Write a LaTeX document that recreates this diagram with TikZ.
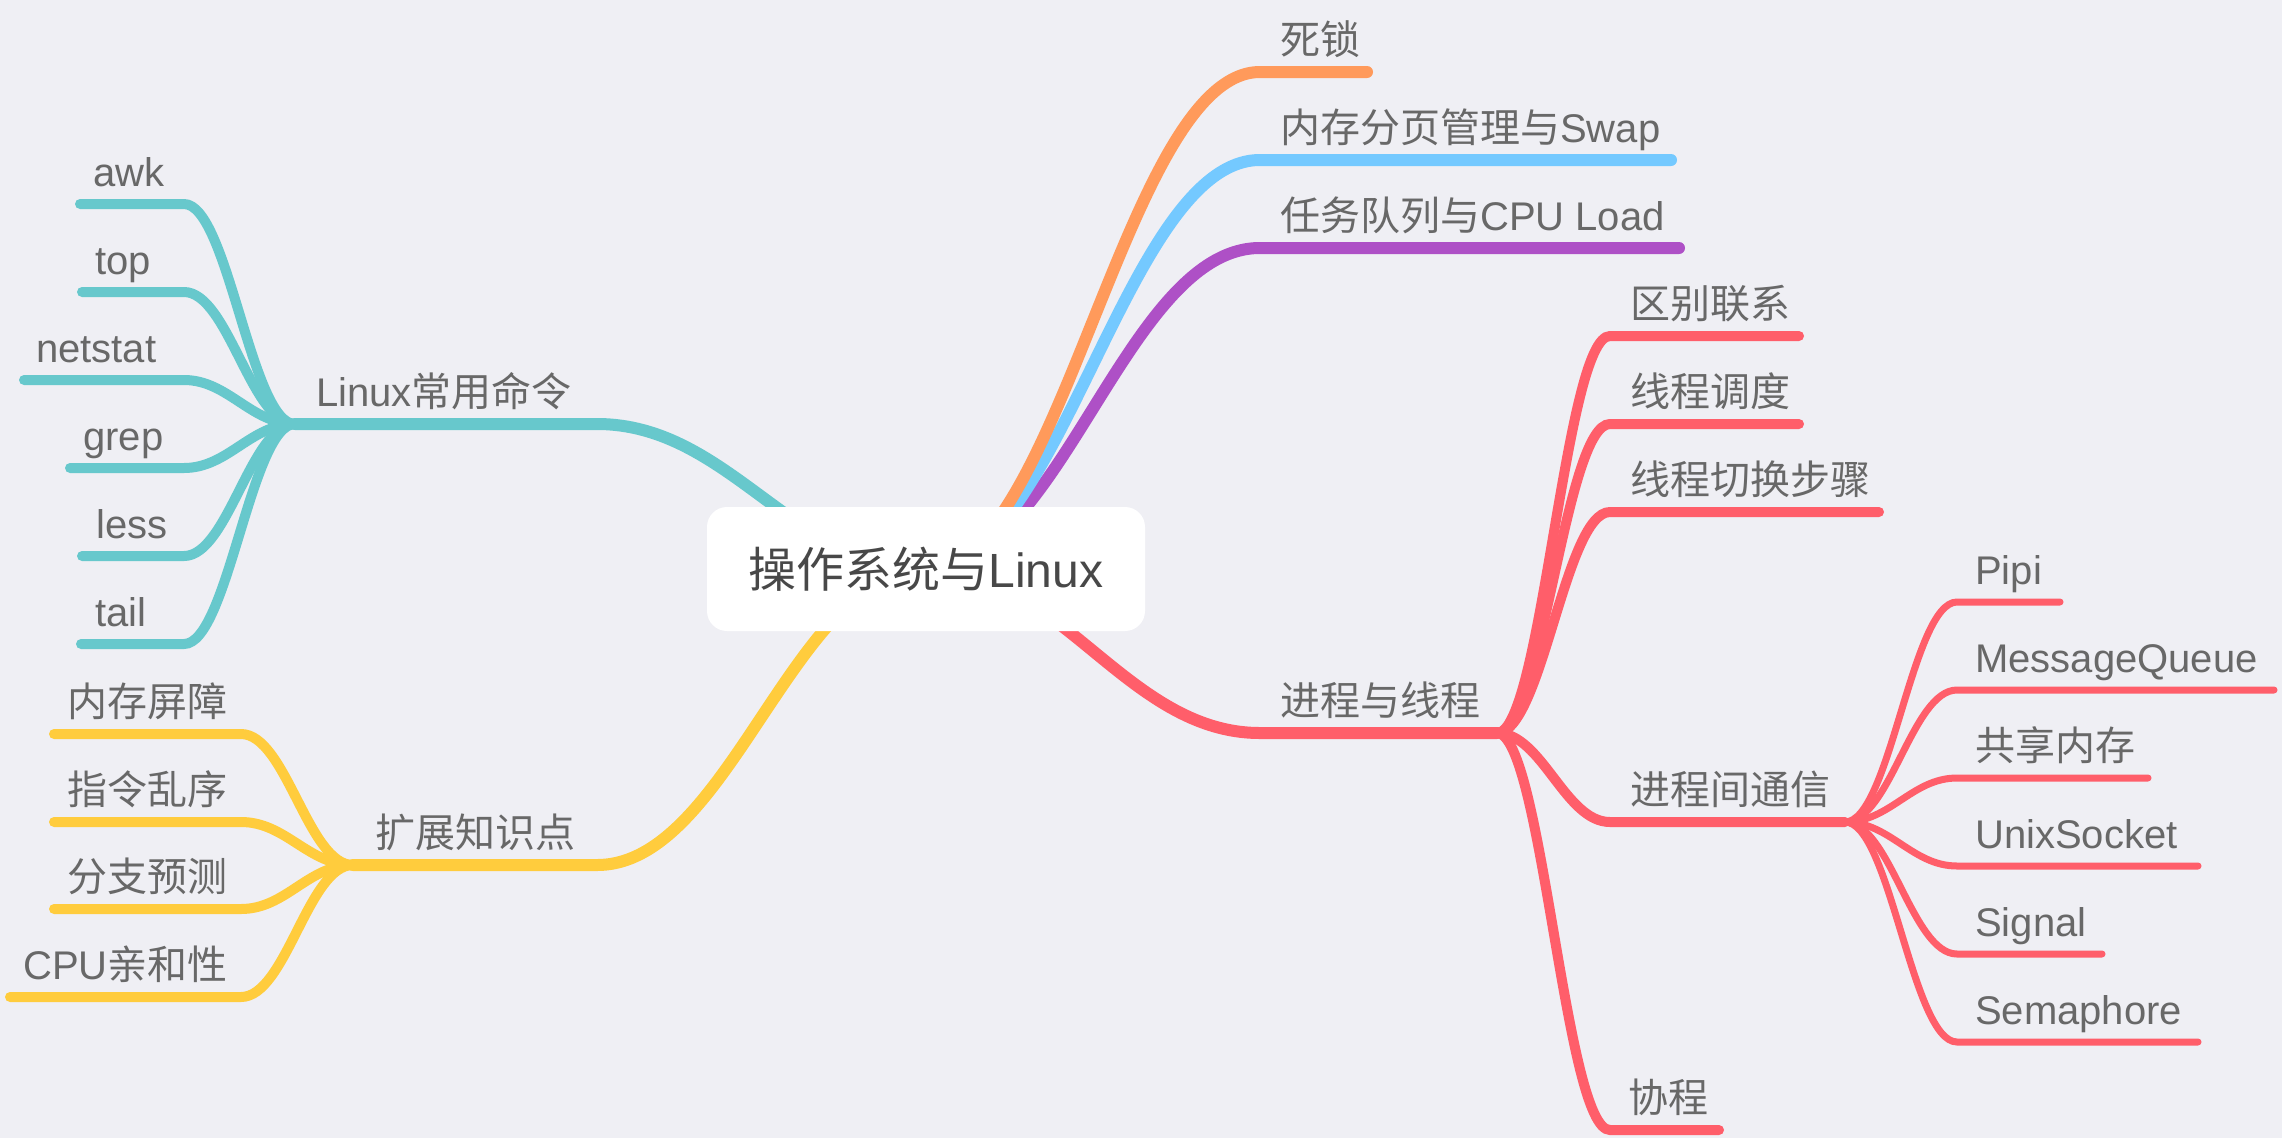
\documentclass[tikz,border=0pt]{standalone}
\usepackage{fontspec}
\setmainfont{Liberation Sans}
\newfontfamily\cjkfont{Noto Sans CJK SC}
\newcommand\zh[1]{{\cjkfont #1}}
\definecolor{bg}{RGB}{239,239,244}
\definecolor{corange}{RGB}{255,154,91}
\definecolor{cblue}{RGB}{116,201,255}
\definecolor{cpurple}{RGB}{174,80,198}
\definecolor{cred}{RGB}{255,94,106}
\definecolor{cteal}{RGB}{103,200,204}
\definecolor{cyellow}{RGB}{255,204,61}
\definecolor{txt}{RGB}{104,104,104}
\definecolor{roottxt}{RGB}{72,72,72}
\newcommand\mmlink[6]{\draw[#1] (#2) .. controls +(#5,0) and +(#6,0) .. (#3) -- (#4);}
\begin{document}
\begin{tikzpicture}[x=1pt,y=-1pt,
  mainline/.style={line width=12pt,line cap=round},
  subline/.style={line width=10pt,line cap=round},
  leafline/.style={line width=7pt,line cap=round},
  lbl/.style={anchor=base west,inner sep=0pt,text=txt,font=\fontsize{40}{48}\selectfont},
  rootbox/.style={fill=white,rounded corners=20pt,minimum width=438pt,minimum height=124pt,inner sep=0pt,text=roottxt,font=\fontsize{48}{56}\selectfont}]
\fill[bg] (0,0) rectangle (2282,1138);
\useasboundingbox (0,0) rectangle (2282,1138);

% anchor coordinates
\coordinate (rootc) at (926,569);
\coordinate (sisuo-a) at (1260,72);   \coordinate (sisuo-b) at (1367,72);
\coordinate (swap-a) at (1260,160);   \coordinate (swap-b) at (1671,160);
\coordinate (load-a) at (1260,248);   \coordinate (load-b) at (1679,248);
\coordinate (proc-a) at (1260,733);   \coordinate (proc-b) at (1497,733);
\coordinate (linux-a) at (597,424);   \coordinate (linux-b) at (295,424);
\coordinate (ext-a) at (597,865);     \coordinate (ext-b) at (353,865);

\coordinate (awk-a) at (184,204);     \coordinate (awk-b) at (80,204);
\coordinate (top-a) at (184,292);     \coordinate (top-b) at (82,292);
\coordinate (netstat-a) at (184,380); \coordinate (netstat-b) at (24,380);
\coordinate (grep-a) at (184,468);    \coordinate (grep-b) at (70,468);
\coordinate (less-a) at (184,556);    \coordinate (less-b) at (82,556);
\coordinate (tail-a) at (184,644);    \coordinate (tail-b) at (81,644);

\coordinate (barrier-a) at (241,734); \coordinate (barrier-b) at (54,734);
\coordinate (reorder-a) at (241,822); \coordinate (reorder-b) at (54,822);
\coordinate (branchp-a) at (241,909); \coordinate (branchp-b) at (54,909);
\coordinate (affinity-a) at (241,997);\coordinate (affinity-b) at (10,997);

\coordinate (diff-a) at (1610,336);   \coordinate (diff-b) at (1799,336);
\coordinate (sched-a) at (1610,424);  \coordinate (sched-b) at (1799,424);
\coordinate (switch-a) at (1610,512); \coordinate (switch-b) at (1879,512);
\coordinate (ipc-a) at (1610,822);    \coordinate (ipc-b) at (1845,822);
\coordinate (coro-a) at (1610,1130);  \coordinate (coro-b) at (1719,1130);

\coordinate (pipi-a) at (1957,602);   \coordinate (pipi-b) at (2060,602);
\coordinate (mq-a) at (1957,690);     \coordinate (mq-b) at (2274,690);
\coordinate (shm-a) at (1957,778);    \coordinate (shm-b) at (2148,778);
\coordinate (unix-a) at (1957,866);   \coordinate (unix-b) at (2198,866);
\coordinate (sig-a) at (1957,954);    \coordinate (sig-b) at (2102,954);
\coordinate (sem-a) at (1957,1042);   \coordinate (sem-b) at (2198,1042);

% main branches
\mmlink{mainline,cteal}{rootc}{linux-a}{linux-b}{-132}{132}
\mmlink{mainline,cyellow}{rootc}{ext-a}{ext-b}{-132}{132}
\mmlink{mainline,cred}{rootc}{proc-a}{proc-b}{134}{-134}
\mmlink{mainline,cpurple}{rootc}{load-a}{load-b}{134}{-134}
\mmlink{mainline,cblue}{rootc}{swap-a}{swap-b}{134}{-134}
\mmlink{mainline,corange}{rootc}{sisuo-a}{sisuo-b}{134}{-134}

% Linux commands
\foreach \n in {awk,top,netstat,grep,less,tail}
  {\mmlink{subline,cteal}{linux-b}{\n-a}{\n-b}{-44}{44}}
% extension
\foreach \n in {barrier,reorder,branchp,affinity}
  {\mmlink{subline,cyellow}{ext-b}{\n-a}{\n-b}{-45}{45}}
% process & thread
\foreach \n in {diff,sched,switch,ipc,coro}
  {\mmlink{subline,cred}{proc-b}{\n-a}{\n-b}{45}{-45}}
% IPC
\foreach \n in {pipi,mq,shm,unix,sig,sem}
  {\mmlink{leafline,cred}{ipc-b}{\n-a}{\n-b}{45}{-45}}

% root
\node[rootbox] (root) at (rootc) {\zh{操作系统与}Linux};

% labels
\node[lbl] (sisuo) at (1280,54) {\zh{死锁}};
\node[lbl] (swap) at (1280,142) {\zh{内存分页管理与}Swap};
\node[lbl] (load) at (1280,230) {\zh{任务队列与}CPU Load};
\node[lbl] (proc) at (1280,715) {\zh{进程与线程}};
\node[lbl] (linux) at (316,406) {Linux\zh{常用命令}};
\node[lbl] (ext) at (375,847) {\zh{扩展知识点}};

\node[lbl] (awk) at (93,186) {awk};
\node[lbl] (top) at (95,274) {top};
\node[lbl] (netstat) at (36,362) {netstat};
\node[lbl] (grep) at (83,450) {grep};
\node[lbl] (less) at (96,538) {less};
\node[lbl] (tail) at (95,626) {tail};

\node[lbl] (barrier) at (67,716) {\zh{内存屏障}};
\node[lbl] (reorder) at (67,804) {\zh{指令乱序}};
\node[lbl] (branchp) at (67,891) {\zh{分支预测}};
\node[lbl] (affinity) at (23,979) {CPU\zh{亲和性}};

\node[lbl] (diff) at (1630,318) {\zh{区别联系}};
\node[lbl] (sched) at (1630,406) {\zh{线程调度}};
\node[lbl] (switch) at (1630,494) {\zh{线程切换步骤}};
\node[lbl] (ipc) at (1630,804) {\zh{进程间通信}};
\node[lbl] (coro) at (1628,1112) {\zh{协程}};

\node[lbl] (pipi) at (1975,584) {Pipi};
\node[lbl] (mq) at (1975,672) {MessageQueue};
\node[lbl] (shm) at (1975,760) {\zh{共享内存}};
\node[lbl] (unix) at (1975,848) {UnixSocket};
\node[lbl] (sig) at (1975,936) {Signal};
\node[lbl] (sem) at (1975,1024) {Semaphore};
\end{tikzpicture}
\end{document}
